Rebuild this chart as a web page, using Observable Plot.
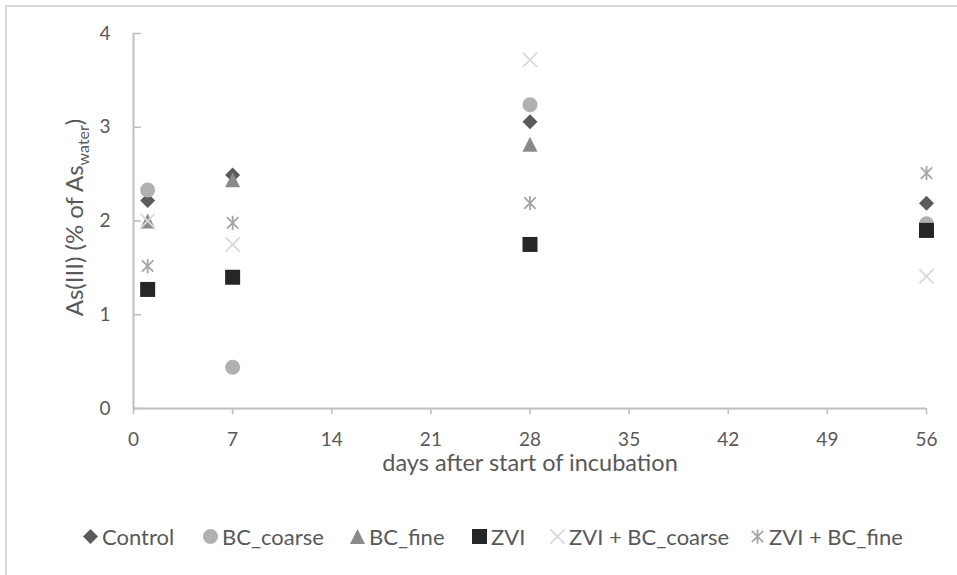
<!DOCTYPE html>
<html><head><meta charset="utf-8">
<script src="https://cdn.jsdelivr.net/npm/d3@7"></script>
<script src="https://cdn.jsdelivr.net/npm/@observablehq/plot@0.6"></script>
<style>
body{margin:0;background:#fff;font-family:Lato,sans-serif;}
#wrap{position:relative;width:957px;height:575px;overflow:hidden;background:#fff;}
#frame{position:absolute;left:5px;top:5px;width:1000px;height:1000px;border:2px solid #d9d9d9;box-sizing:border-box;}
#chart{position:absolute;left:0;top:0;}
#legend{position:absolute;left:0;top:522px;height:28px;width:957px;}
.item{position:absolute;top:0;height:28px;display:flex;align-items:center;color:#595959;font-size:22px;white-space:nowrap;font-family:Lato,sans-serif;}
.item svg{margin-right:4px;overflow:visible}
</style></head>
<body><div id="wrap"><div id="frame"></div><div id="chart"></div><div id="legend"></div></div>
<script>
// ---- data ----
const days = [1, 7, 28, 56];
const seriesNames = ["Control", "BC_coarse", "BC_fine", "ZVI", "ZVI + BC_coarse", "ZVI + BC_fine"];
const control     = [2.22, 2.49, 3.06, 2.19];
const bcCoarse    = [2.33, 0.44, 3.24, 1.97];
const bcFine      = [2.00, 2.44, 2.82, 1.90];
const zvi         = [1.27, 1.40, 1.75, 1.90];
const zviBcCoarse = [2.00, 1.75, 3.72, 1.41];
const zviBcFine   = [1.52, 1.98, 2.19, 2.51];
const xTicks = [0, 7, 14, 21, 28, 35, 42, 49, 56];
const yTicks = [0, 1, 2, 3, 4];
const xTitle = "days after start of incubation";

// ---- symbols (Excel-like markers) ----
const R = s => Math.sqrt(s / Math.PI);
const symDiamond = {draw(c, s){const h=R(s); c.moveTo(0,-h); c.lineTo(h,0); c.lineTo(0,h); c.lineTo(-h,0); c.closePath();}};
const symCircle = {draw(c, s){const h=R(s); c.moveTo(h,0); c.arc(0,0,h,0,2*Math.PI); c.closePath();}};
const symTriangle = {draw(c, s){const h=R(s); c.moveTo(0,-h); c.lineTo(h,h); c.lineTo(-h,h); c.closePath();}};
const symSquare = {draw(c, s){const h=R(s); c.moveTo(-h,-h); c.lineTo(h,-h); c.lineTo(h,h); c.lineTo(-h,h); c.closePath();}};
const symTimes = {draw(c, s){const h=R(s)*0.95; c.moveTo(-h,-h); c.lineTo(h,h); c.moveTo(h,-h); c.lineTo(-h,h);}};
const symStar = {draw(c, s){const h=R(s)*0.95, k=h*0.8; c.moveTo(-k,-k); c.lineTo(k,k); c.moveTo(k,-k); c.lineTo(-k,k); c.moveTo(0,-h); c.lineTo(0,h);}};

const series = [
  {name: seriesNames[0], values: control,     symbol: symDiamond,  color: "#5b5b5b", filled: true},
  {name: seriesNames[1], values: bcCoarse,    symbol: symCircle,   color: "#b0b0b0", filled: true},
  {name: seriesNames[2], values: bcFine,      symbol: symTriangle, color: "#8a8a8a", filled: true},
  {name: seriesNames[3], values: zvi,         symbol: symSquare,   color: "#262626", filled: true},
  {name: seriesNames[4], values: zviBcCoarse, symbol: symTimes,    color: "#d9d9d9", filled: false},
  {name: seriesNames[5], values: zviBcFine,   symbol: symStar,     color: "#a6a6a6", filled: false}
];

const dots = series.map(s => Plot.dot(days.map((d, i) => ({day: d, value: s.values[i]})), {
  x: "day", y: "value", symbol: s.symbol, r: 7.5,
  fill: s.filled ? s.color : "none",
  stroke: s.filled ? "none" : s.color,
  strokeWidth: 1.8
}));

const plot = Plot.plot({
  width: 957, height: 500,
  marginLeft: 133, marginRight: 31, marginTop: 33, marginBottom: 92,
  style: {fontFamily: "Lato, sans-serif", fontSize: "19px", color: "#595959", background: "transparent"},
  x: {domain: [0, 56]},
  y: {domain: [0, 4]},
  marks: [
    Plot.axisX({ticks: xTicks, tickSize: 6, tickPadding: 18, stroke: "#bfbfbf", strokeWidth: 1.6, fill: "#595959", label: null, fontSize: 19, tickFormat: "d"}),
    Plot.axisY({ticks: yTicks, tickSize: 0, tickPadding: 23, fill: "#595959", label: null, fontSize: 19, tickFormat: "d"}),
    Plot.ruleY(yTicks, {x1: 0, x2: 0.56, stroke: "#bfbfbf", strokeWidth: 1.6}),
    Plot.ruleY([0], {stroke: "#bfbfbf", strokeWidth: 2}),
    Plot.ruleX([0], {stroke: "#bfbfbf", strokeWidth: 2}),
    ...dots,
    Plot.text([xTitle], {frameAnchor: "bottom", dy: 62, fontSize: 23.5, fill: "#595959", text: d => d})
  ]
});
document.getElementById("chart").appendChild(plot);

// y-axis title with subscript
const yS = plot.scale("y");
const cy = (yS.range[0] + yS.range[1]) / 2 - 3;
const t = d3.select(plot).append("text")
  .attr("transform", `translate(83,${cy}) rotate(-90)`)
  .attr("text-anchor", "middle")
  .attr("fill", "#595959")
  .attr("font-size", 24)
  .attr("font-family", "Lato, sans-serif");
t.append("tspan").text("As(III) (% of As");
t.append("tspan").attr("font-size", 16).attr("dy", 6).text("water");
t.append("tspan").attr("dy", -6).text(")");

// legend
const legendX = [83, 203, 350, 472, 550, 750];
const leg = d3.select("#legend");
series.forEach((s, i) => {
  const item = leg.append("div").attr("class", "item").style("left", legendX[i] + "px");
  const sv = item.append("svg").attr("width", 15).attr("height", 15).attr("viewBox", "-7.5 -7.5 15 15");
  sv.append("path").attr("d", d3.symbol(s.symbol, 7.5 * 7.5 * Math.PI)())
    .attr("fill", s.filled ? s.color : "none")
    .attr("stroke", s.filled ? "none" : s.color)
    .attr("stroke-width", 1.8);
  item.append("span").text(s.name);
});
</script>
</body></html>
